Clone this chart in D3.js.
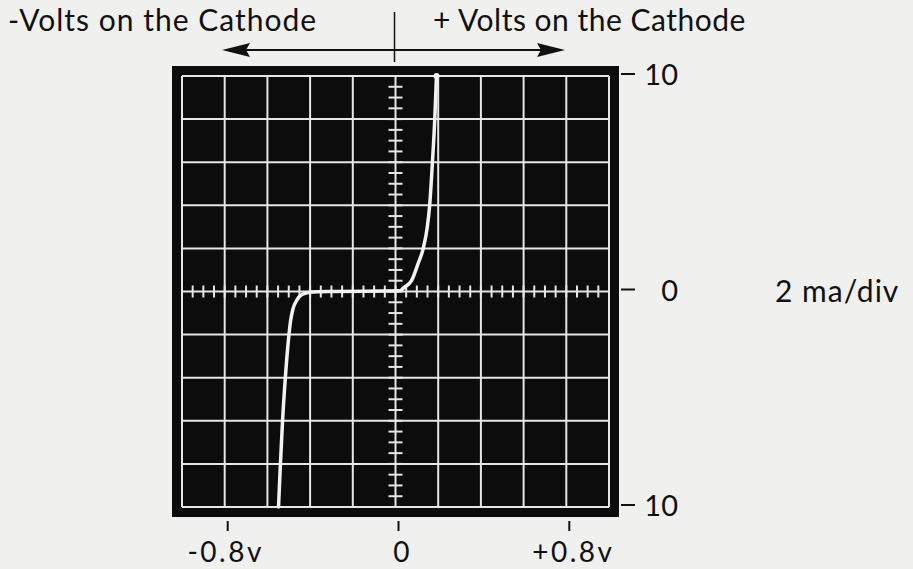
<!DOCTYPE html>
<html>
<head>
<meta charset="utf-8">
<script src="https://cdn.jsdelivr.net/npm/d3@7"></script>
<style>
  html, body { margin: 0; padding: 0; background: #f0f0ee; }
  svg { display: block; }
  text { font-family: Lato, "Noto Sans", sans-serif; fill: #111; }
</style>
</head>
<body>
<div id="chart"></div>
<script>
// trace: volts on the cathode vs current (ma)
const reverseVolts = [-0.548, -0.539, -0.529, -0.516, -0.503, -0.492, -0.480, -0.462, -0.438, -0.40, -0.30];
const reverseMa    = [-10.0, -8.0, -6.0, -4.0, -2.4, -1.4, -0.8, -0.4, -0.14, -0.03, 0];
const forwardVolts = [0, 0.02, 0.042, 0.075, 0.106, 0.130, 0.149, 0.160, 0.173, 0.184, 0.192];
const forwardMa    = [0, 0.03, 0.2, 0.5, 1.3, 2.0, 3.0, 4.0, 6.0, 8.0, 10.0];

const xLabelValues = [-0.8, 0, 0.8];
const xLabelText = ['-0.8v', '0', '+0.8v'];
const yLabelValues = [10, 0, -10];
const yLabelText = ['10', '0', '10'];
const headings = ['-Volts on the Cathode', '+ Volts on the Cathode'];
const scaleNote = '2 ma/div';

const width = 913, height = 569;

const x = d3.scaleLinear().domain([-1, 1]).range([182, 609]);
const y = d3.scaleLinear().domain([-10, 10]).range([507, 76]);

const svg = d3.select('#chart')
    .append('svg')
    .attr('width', width)
    .attr('height', height);

// scope face
const pad = 10;
svg.append('rect')
    .attr('x', x(-1) - pad)
    .attr('y', y(10) - pad)
    .attr('width', x(1) - x(-1) + 2 * pad)
    .attr('height', y(-10) - y(10) + 2 * pad)
    .attr('fill', '#0c0c0c');

// graticule
const grid = svg.append('g').attr('stroke', '#e6e6e6').attr('stroke-width', 2);
grid.selectAll('line.v')
    .data(x.ticks(10))
    .join('line')
    .attr('class', 'v')
    .attr('x1', d => x(d)).attr('x2', d => x(d))
    .attr('y1', y(10)).attr('y2', y(-10));
grid.selectAll('line.h')
    .data(y.ticks(10))
    .join('line')
    .attr('class', 'h')
    .attr('x1', x(-1)).attr('x2', x(1))
    .attr('y1', d => y(d)).attr('y2', d => y(d));

// minor ticks on the centre axes
grid.selectAll('line.mx')
    .data(x.ticks(50))
    .join('line')
    .attr('class', 'mx')
    .attr('x1', d => x(d)).attr('x2', d => x(d))
    .attr('y1', y(0) - 6).attr('y2', y(0) + 6);
grid.selectAll('line.my')
    .data(y.ticks(50))
    .join('line')
    .attr('class', 'my')
    .attr('x1', x(0) - 7).attr('x2', x(0) + 7)
    .attr('y1', d => y(d)).attr('y2', d => y(d));

// the trace
const trace = reverseVolts.map((v, i) => [v, reverseMa[i]])
    .concat(forwardVolts.map((v, i) => [v, forwardMa[i]]).slice(1));

const line = d3.line()
    .x(d => x(d[0]))
    .y(d => y(d[1]))
    .curve(d3.curveMonotoneX);

svg.append('path')
    .datum(trace)
    .attr('d', line)
    .attr('fill', 'none')
    .attr('stroke', '#f2f2f2')
    .attr('stroke-width', 3.5)
    .attr('stroke-linecap', 'round');

const last = trace[trace.length - 1];
svg.append('circle')
    .attr('cx', x(last[0]))
    .attr('cy', y(last[1]))
    .attr('r', 3)
    .attr('fill', '#f5f5f5');

// right side current labels
svg.selectAll('line.ytick')
    .data(yLabelValues)
    .join('line')
    .attr('class', 'ytick')
    .attr('x1', x(1) + 12).attr('x2', x(1) + 26)
    .attr('y1', d => y(d) - 2).attr('y2', d => y(d) - 2)
    .attr('stroke', '#111').attr('stroke-width', 2);
svg.selectAll('text.ylab')
    .data(yLabelValues)
    .join('text')
    .attr('class', 'ylab')
    .attr('x', 678)
    .attr('y', d => y(d) + 9)
    .attr('text-anchor', 'end')
    .style('font-size', '29px')
    .text((d, i) => yLabelText[i]);

svg.append('text')
    .attr('x', 775)
    .attr('y', y(0) + 10)
    .style('font-size', '30px')
    .style('letter-spacing', '1px')
    .text(scaleNote);

// bottom voltage labels
svg.selectAll('line.xtick')
    .data(xLabelValues)
    .join('line')
    .attr('class', 'xtick')
    .attr('x1', d => x(d) + 3).attr('x2', d => x(d) + 3)
    .attr('y1', y(-10) + 14).attr('y2', y(-10) + 24)
    .attr('stroke', '#111').attr('stroke-width', 2);
svg.selectAll('text.xlab')
    .data(xLabelValues)
    .join('text')
    .attr('class', 'xlab')
    .attr('x', d => x(d) + (d < 0 ? 1 : 7))
    .attr('y', 562)
    .attr('text-anchor', 'middle')
    .style('font-size', '28px')
    .style('letter-spacing', '2.5px')
    .text((d, i) => xLabelText[i]);

// headings, divider and direction arrow
svg.selectAll('text.head')
    .data(headings)
    .join('text')
    .attr('class', 'head')
    .attr('x', (d, i) => i === 0 ? 8 : 433)
    .attr('y', 31)
    .style('font-size', '30px')
    .style('letter-spacing', (d, i) => i === 0 ? '1px' : '0.5px')
    .text(d => d);

svg.append('line')
    .attr('x1', x(0) - 1).attr('x2', x(0) - 1)
    .attr('y1', 12).attr('y2', 62)
    .attr('stroke', '#111').attr('stroke-width', 1.5);

const arrowY = 50, arrowL = 222, arrowR = 565;
svg.append('line')
    .attr('x1', arrowL + 20).attr('x2', arrowR - 20)
    .attr('y1', arrowY).attr('y2', arrowY)
    .attr('stroke', '#111').attr('stroke-width', 2);
svg.append('path')
    .attr('d', `M${arrowL},${arrowY} L${arrowL + 28},${arrowY - 7} L${arrowL + 24},${arrowY} L${arrowL + 28},${arrowY + 7} Z`)
    .attr('fill', '#111');
svg.append('path')
    .attr('d', `M${arrowR},${arrowY} L${arrowR - 28},${arrowY - 7} L${arrowR - 24},${arrowY} L${arrowR - 28},${arrowY + 7} Z`)
    .attr('fill', '#111');
</script>
</body>
</html>
